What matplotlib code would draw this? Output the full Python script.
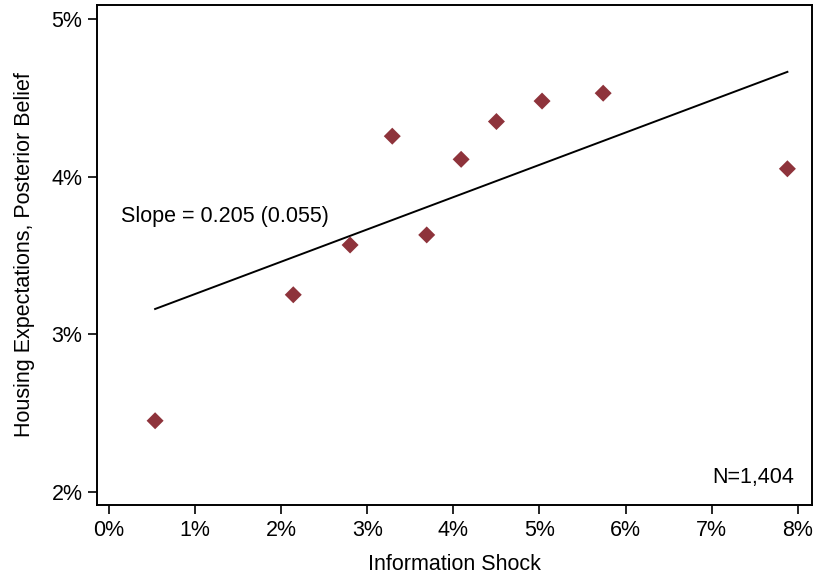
import numpy as np
import matplotlib.pyplot as plt
from matplotlib.ticker import FuncFormatter

plt.rcParams['font.family'] = ['Liberation Sans', 'DejaVu Sans']

# binned scatter: information shock (%) vs posterior belief (%)
shock = [0.535, 2.14, 2.80, 3.29, 3.69, 4.09, 4.50, 5.03, 5.74, 7.88]
belief = [2.45, 3.25, 3.566, 4.257, 3.63, 4.11, 4.35, 4.48, 4.53, 4.05]

# fitted line
slope = 0.205
intercept = 3.05
slope_se = 0.055
n_obs = 1404

fs = 15.5

fig = plt.figure(figsize=(8.14, 5.74), dpi=100)
ax = fig.add_axes([97 / 814, 1 - 505 / 574, 714.5 / 814, 500 / 574])

xs = np.array([min(shock), max(shock)])
ax.plot(xs, intercept + slope * xs, color='black', lw=1.4, zorder=2)
ax.scatter(shock, belief, marker='D', s=75, color='#8e333b', edgecolors='none', zorder=3)

ax.set_xlim(-0.14, 8.16)
ax.set_ylim(1.915, 5.09)
ax.set_xticks(range(0, 9))
ax.set_yticks([2, 3, 4, 5])
pct = FuncFormatter(lambda v, p: f'{v:.0f}%')
ax.xaxis.set_major_formatter(pct)
ax.yaxis.set_major_formatter(pct)
ax.tick_params(direction='out', length=6.5, width=1.2, labelsize=fs, colors='black', pad=4)
for sp in ax.spines.values():
    sp.set_linewidth(1.4)

ax.set_xlabel('Information Shock', fontsize=fs, labelpad=10)
ax.set_ylabel('Housing Expectations, Posterior Belief', fontsize=fs, labelpad=12)

ax.text(0.14, 3.75, f'Slope = {slope:.3f} ({slope_se:.3f})', fontsize=fs, va='center', ha='left')
ax.text(0.976, 0.055, f'N={n_obs:,}', transform=ax.transAxes, fontsize=fs, ha='right', va='center')

fig.savefig('out.png', dpi=100)
